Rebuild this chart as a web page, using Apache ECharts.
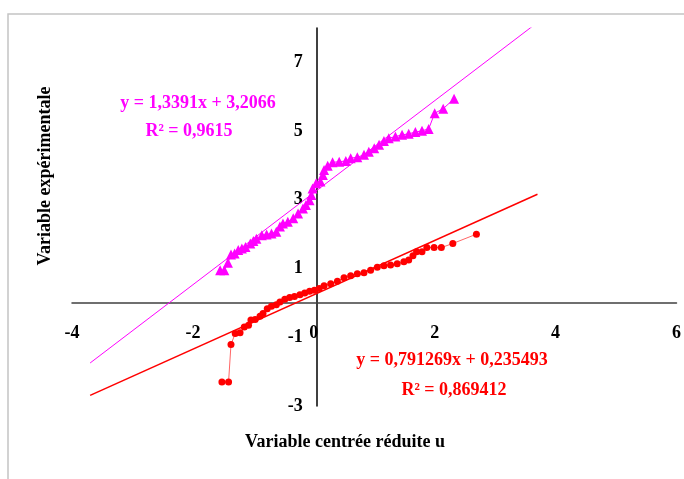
<!DOCTYPE html>
<html>
<head>
<meta charset="utf-8">
<script src="https://cdn.jsdelivr.net/npm/echarts@6/dist/echarts.min.js"></script>
<style>
html,body{margin:0;padding:0;background:#fff;}
#chart{width:684px;height:479px;}
</style>
</head>
<body>
<div id="chart"></div>
<script>
// ---- Data ----
const magentaX = [-1.55,-1.48,-1.42,-1.37,-1.31,-1.25,-1.19,-1.13,-1.05,-1.00,-0.95,-0.86,-0.78,-0.70,-0.62,-0.56,-0.51,-0.43,-0.34,-0.26,-0.18,-0.13,-0.07,-0.04,-0.02,0.04,0.11,0.15,0.17,0.23,0.31,0.42,0.53,0.61,0.72,0.83,0.91,1.00,1.08,1.16,1.24,1.35,1.46,1.57,1.68,1.79,1.90,2.00,2.14,2.32];
const magentaY = [0.95,0.95,1.17,1.41,1.44,1.54,1.58,1.63,1.73,1.80,1.87,1.97,1.99,2.02,2.07,2.22,2.31,2.36,2.46,2.60,2.75,2.85,2.99,3.14,3.33,3.48,3.53,3.72,3.87,3.99,4.09,4.11,4.13,4.21,4.24,4.31,4.40,4.50,4.60,4.71,4.79,4.84,4.89,4.92,4.97,5.01,5.06,5.52,5.65,5.94];
const redX = [-1.52,-1.41,-1.37,-1.30,-1.22,-1.15,-1.08,-1.04,-0.97,-0.89,-0.84,-0.77,-0.70,-0.62,-0.56,-0.48,-0.40,-0.32,-0.23,-0.15,-0.07,0.01,0.09,0.17,0.28,0.39,0.50,0.61,0.72,0.83,0.94,1.05,1.16,1.27,1.38,1.49,1.57,1.64,1.70,1.79,1.87,1.99,2.11,2.30,2.69];
const redY = [-2.30,-2.30,-1.21,-0.89,-0.87,-0.70,-0.65,-0.50,-0.48,-0.39,-0.31,-0.17,-0.10,-0.05,0.03,0.11,0.16,0.19,0.24,0.29,0.34,0.37,0.42,0.50,0.56,0.63,0.73,0.79,0.85,0.88,0.95,1.04,1.08,1.10,1.14,1.20,1.25,1.37,1.49,1.49,1.61,1.61,1.61,1.73,2.00];

// Trend lines (linear regressions shown on the chart)
const trendSlopes = [1.3391, 0.791269];
const trendIntercepts = [3.2066, 0.235493];
const trendXRange = [-3.7, 3.7];
const trendLabels = [
  ['y = 1,3391x + 3,2066', 'R² = 0,9615'],
  ['y = 0,791269x + 0,235493', 'R² = 0,869412']
];

// Axes
const xMin = -4, xMax = 6, xStep = 2;
const yMin = -3, yMax = 8, yStep = 2;
const xTitle = 'Variable centrée réduite u';
const yTitle = 'Variable expérimentale';

// ---- Layout ----
const W = 684, H = 479;
const G = {left: 72, right: 0, top: 28, bottom: 73};
const plotW = W - G.left - G.right, plotH = H - G.top - G.bottom;
// axes cross at the origin: shift axes from the grid edges to x=0 / y=0
const yAxisOffset = -plotW * (0 - xMin) / (xMax - xMin);
const xAxisOffset = -plotH * (0 - yMin) / (yMax - yMin);

// ---- Chart ----
const FONT = '"Liberation Serif","Times New Roman",serif';
const MAG = '#ff00ff', RED = '#ff0000';
const zip = (a, b) => a.map((v, i) => [v, b[i]]);
const trend = k => trendXRange.map(x => [x, trendSlopes[k] * x + trendIntercepts[k]]);

const chart = echarts.init(document.getElementById('chart'), null, {renderer: 'canvas'});
chart.setOption({
  animation: false,
  backgroundColor: '#ffffff',
  grid: {left: G.left, right: G.right, top: G.top, bottom: G.bottom, containLabel: false},
  xAxis: {
    type: 'value', min: xMin, max: xMax, interval: xStep,
    position: 'bottom', offset: xAxisOffset,
    axisLine: {onZero: false, lineStyle: {color: '#404040', width: 1.5}},
    axisTick: {show: false},
    splitLine: {show: false},
    axisLabel: {margin: 21, color: '#000', fontFamily: FONT, fontWeight: 'bold', fontSize: 18}
  },
  yAxis: {
    type: 'value', min: yMin, max: yMax, interval: yStep,
    position: 'left', offset: yAxisOffset,
    axisLine: {show: true, onZero: false, lineStyle: {color: '#000', width: 1.5}},
    axisTick: {show: false},
    splitLine: {show: false},
    axisLabel: {margin: 14, showMaxLabel: false, color: '#000', fontFamily: FONT, fontWeight: 'bold', fontSize: 18}
  },
  series: [
    {
      type: 'line', data: zip(magentaX, magentaY),
      symbol: 'triangle', symbolSize: 10,
      itemStyle: {color: MAG},
      lineStyle: {color: MAG, width: 1},
      z: 3
    },
    {
      type: 'line', data: zip(redX, redY),
      symbol: 'circle', symbolSize: 7,
      itemStyle: {color: RED},
      lineStyle: {color: '#ff6666', width: 1},
      z: 3
    },
    {
      type: 'line', data: trend(0), symbol: 'none', clip: true,
      lineStyle: {color: MAG, width: 1}, z: 4
    },
    {
      type: 'line', data: trend(1), symbol: 'none', clip: true,
      lineStyle: {color: RED, width: 1.5}, z: 4
    }
  ],
  graphic: [
    {type: 'rect', shape: {x: 8, y: 14, width: 720, height: 520}, style: {fill: 'none', stroke: '#c4c4c4', lineWidth: 1.5}, silent: true},
    {type: 'text', x: 198, y: 103, style: {text: trendLabels[0][0], font: 'bold 18px ' + FONT, fill: MAG, textAlign: 'center', textVerticalAlign: 'middle'}},
    {type: 'text', x: 189, y: 131, style: {text: trendLabels[0][1], font: 'bold 18px ' + FONT, fill: MAG, textAlign: 'center', textVerticalAlign: 'middle'}},
    {type: 'text', x: 452, y: 360, style: {text: trendLabels[1][0], font: 'bold 18px ' + FONT, fill: RED, textAlign: 'center', textVerticalAlign: 'middle'}},
    {type: 'text', x: 454, y: 390, style: {text: trendLabels[1][1], font: 'bold 18px ' + FONT, fill: RED, textAlign: 'center', textVerticalAlign: 'middle'}},
    {type: 'text', x: 345, y: 442, style: {text: xTitle, font: 'bold 18px ' + FONT, fill: '#000', textAlign: 'center', textVerticalAlign: 'middle'}},
    {type: 'text', x: 45, y: 176, rotation: Math.PI / 2, style: {text: yTitle, font: 'bold 18px ' + FONT, fill: '#000', textAlign: 'center', textVerticalAlign: 'middle'}}
  ]
});
</script>
</body>
</html>
